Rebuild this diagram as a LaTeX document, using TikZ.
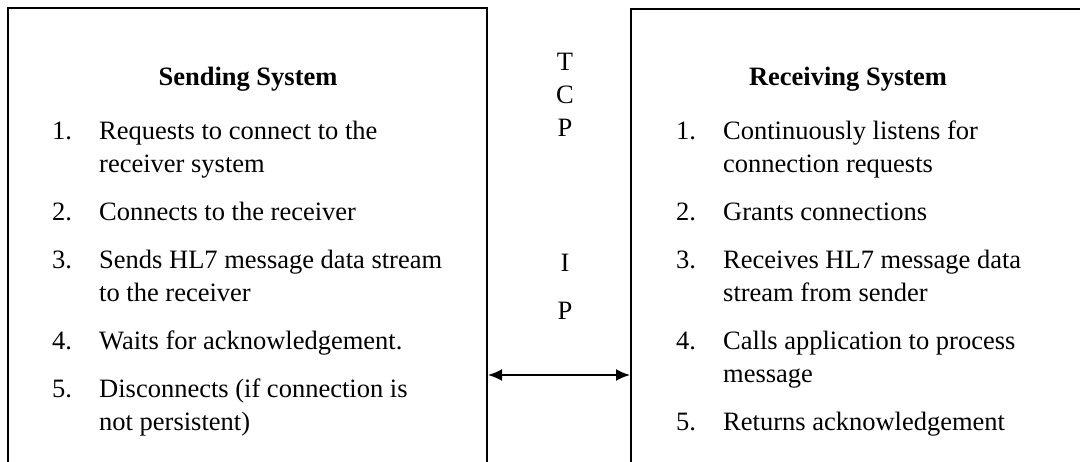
\documentclass[tikz,border=0pt]{standalone}
\usepackage{fontspec}
\setmainfont{Liberation Serif}
\usetikzlibrary{calc, arrows.meta}
\tikzset{>={Latex[length=14pt, width=12pt]}}
\tikzset{
    txt/.style = {inner sep = 0pt, align = left, font = \fontsize{26.5}{33}\selectfont},
    num/.style = {txt, anchor = base west},
    entry/.style = {txt, anchor = base west},
    head/.style = {txt, anchor = base, font = \fontsize{26.5}{33}\selectfont\bfseries},
    letter/.style = {txt, anchor = base}
}

\begin{document}
\begin{tikzpicture}[x = 1pt, y = -1pt]

    \useasboundingbox (0,0) rectangle (1080,462);

    % sending side
    \coordinate (sendBL) at (8,462);
    \coordinate (sendTL) at (8,8);
    \coordinate (sendTR) at (487,8);
    \coordinate (sendBR) at (487,462);
    \draw[black, line width = 2pt] (sendBL) -- (sendTL) -- (sendTR) -- (sendBR);

    \node[head] (sendHead) at (248,86) {Sending System};
    \node[num] (s1) at (52,140) {1.};
    \node[entry] (s1t) at ($(s1.base west) + (47,33)$) {Requests to connect to the\\receiver system};
    \node[num] (s2) at (52,221) {2.};
    \node[entry] (s2t) at ($(s2.base west) + (47,0)$) {Connects to the receiver};
    \node[num] (s3) at (52,269) {3.};
    \node[entry] (s3t) at ($(s3.base west) + (47,33)$) {Sends HL7 message data stream\\to the receiver};
    \node[num] (s4) at (52,350) {4.};
    \node[entry] (s4t) at ($(s4.base west) + (47,0)$) {Waits for acknowledgement.};
    \node[num] (s5) at (52,398) {5.};
    \node[entry] (s5t) at ($(s5.base west) + (47,33)$) {Disconnects (if connection is\\not persistent)};

    % protocol in the middle
    \node[letter] (tT) at (565,71) {T};
    \node[letter] (tC) at (565,104) {C};
    \node[letter] (tP) at (565,137) {P};
    \node[letter] (iI) at (565,272) {I};
    \node[letter] (iP) at (565,320) {P};

    % receiving side
    \begin{scope}[xshift = 624pt]
        \coordinate (recvBL) at (7,462);
        \coordinate (recvTL) at (7,9);
        \coordinate (recvTR) at (456,9);
        \draw[black, line width = 2pt] (recvBL) -- (recvTL) -- (recvTR);

        \node[head] (recvHead) at (224,86) {Receiving System};
        \node[num] (r1) at (52,140) {1.};
        \node[entry] (r1t) at ($(r1.base west) + (47,33)$) {Continuously listens for\\connection requests};
        \node[num] (r2) at (52,221) {2.};
        \node[entry] (r2t) at ($(r2.base west) + (47,0)$) {Grants connections};
        \node[num] (r3) at (52,269) {3.};
        \node[entry] (r3t) at ($(r3.base west) + (47,33)$) {Receives HL7 message data\\stream from sender};
        \node[num] (r4) at (52,350) {4.};
        \node[entry] (r4t) at ($(r4.base west) + (47,33)$) {Calls application to process\\message};
        \node[num] (r5) at (52,431) {5.};
        \node[entry] (r5t) at ($(r5.base west) + (47,0)$) {Returns acknowledgement};
    \end{scope}

    \coordinate (linkL) at (488,375);
    \coordinate (linkR) at (630,375);
    \draw[<->, black, line width = 2pt] (linkL) -- (linkR);

\end{tikzpicture}
\end{document}
